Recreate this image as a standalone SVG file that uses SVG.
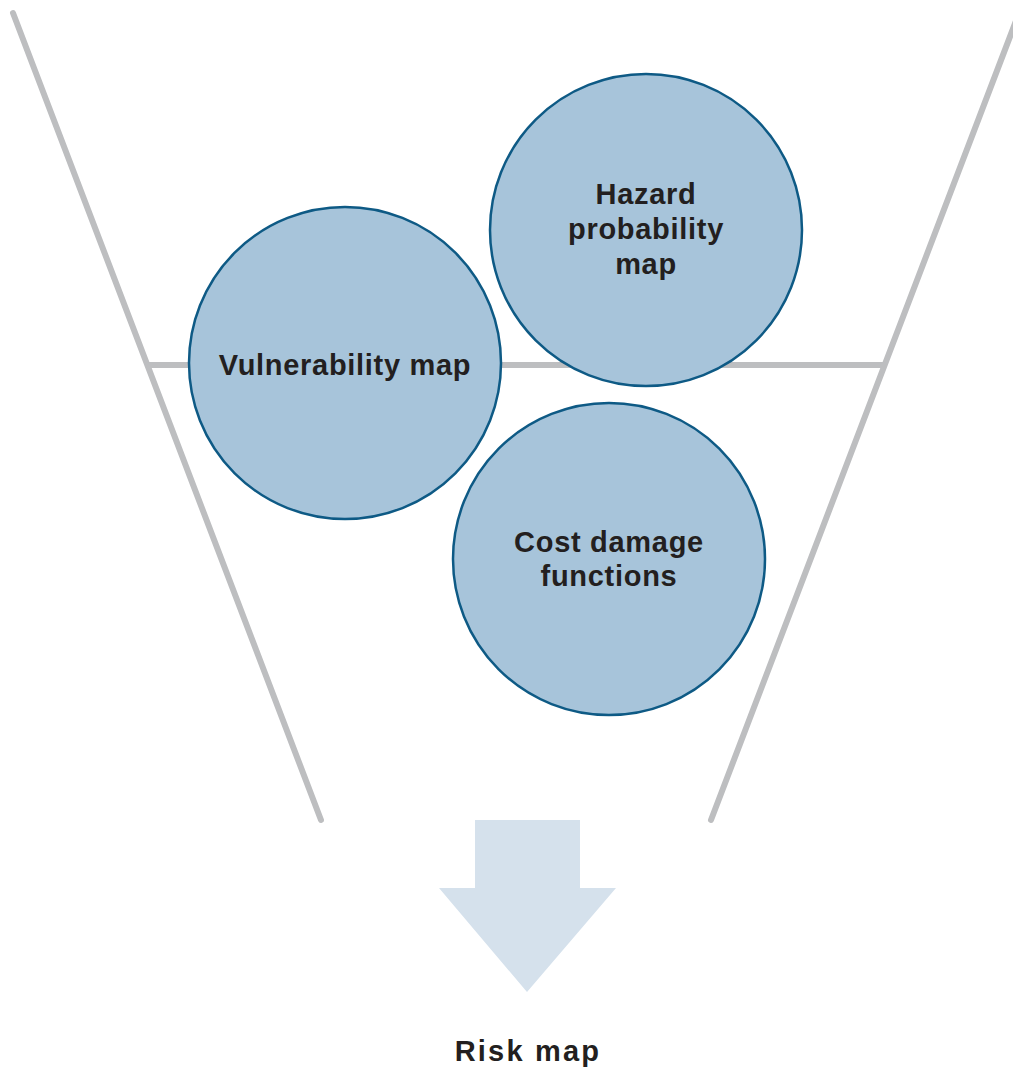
<svg xmlns="http://www.w3.org/2000/svg" width="1013" height="1067" viewBox="0 0 1013 1067">
<style>
.funnel{stroke:#bdbec0;stroke-width:6;stroke-linecap:round;fill:none}
.node circle{fill:#a7c4da;stroke:#0e5a85;stroke-width:2.5}
.lbl{font-family:"Liberation Sans",Arial,sans-serif;font-weight:bold;font-size:29px;letter-spacing:0.7px;fill:#231f20;text-anchor:middle}
</style>
<rect width="1013" height="1067" fill="#ffffff"/>
<g id="connectors">
<line class="funnel" x1="13" y1="13" x2="321" y2="820"/>
<line class="funnel" x1="1019" y1="13" x2="711" y2="820"/>
<line class="funnel" x1="148" y1="365" x2="884" y2="365" style="stroke-linecap:butt"/>
<polygon points="475,820 580,820 580,888 616,888 527,992 439,888 475,888" fill="#d5e1ec"/>
</g>
<g id="hazard" class="node">
<circle cx="646" cy="230" r="156"/>
<text class="lbl" x="646" y="204">Hazard</text>
<text class="lbl" x="646" y="239">probability</text>
<text class="lbl" x="646" y="274">map</text>
</g>
<g id="vulnerability" class="node">
<circle cx="345" cy="363" r="156"/>
<text class="lbl" x="345" y="375">Vulnerability map</text>
</g>
<g id="cost" class="node">
<circle cx="609" cy="559" r="156"/>
<text class="lbl" x="609" y="552">Cost damage</text>
<text class="lbl" x="609" y="586">functions</text>
</g>
<g id="risk">
<text class="lbl" x="528" y="1061" style="letter-spacing:2.2px">Risk map</text>
</g>
</svg>
